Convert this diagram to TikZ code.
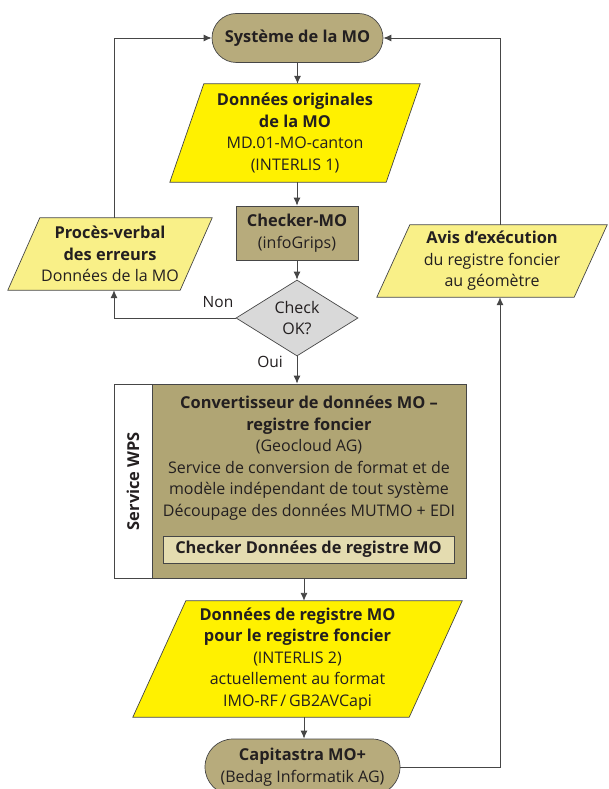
\documentclass[tikz,border=0pt]{standalone}
\usepackage{fontspec}
\setmainfont{Open Sans}
\usetikzlibrary{arrows.meta,shapes.geometric,backgrounds,calc}
\definecolor{khaki}{RGB}{183,171,124}
\definecolor{khakid}{RGB}{176,165,116}
\definecolor{khakil}{RGB}{228,220,176}
\definecolor{yel}{RGB}{255,241,0}
\definecolor{paleyel}{RGB}{249,240,136}
\definecolor{dgray}{RGB}{217,217,217}
\definecolor{edge}{RGB}{70,70,70}
\definecolor{txt}{RGB}{35,31,32}
\newcommand{\bb}{\fontsize{16.4}{21.5}\selectfont\bfseries}
\newcommand{\paral}[3]{% name, slant, colour
  \begin{scope}[on background layer]
  \fill[#3,draw=edge,line width=0.7pt] ($(#1.north west)+(#2,0)$) -- (#1.north east) -- ($(#1.south east)-(#2,0)$) -- (#1.south west) -- cycle;
  \end{scope}}
\begin{document}
\begin{tikzpicture}[x=1pt,y=-1pt,
  every node/.style={text=txt,align=center,inner sep=0pt,font=\fontsize{16}{21.5}\selectfont},
  pill/.style={rectangle,rounded corners=#1,fill=khaki,draw=edge,line width=0.7pt},
  boxk/.style={rectangle,fill=khaki,draw=edge,line width=0.7pt},
  ptext/.style={rectangle},
  conn/.style={draw=edge,line width=0.9pt},
  arr/.style={conn,-{Latex[length=8pt,width=7pt]}},
  lbl/.style={font=\fontsize{15.5}{17}\selectfont}]
\useasboundingbox (0,0) rectangle (609,789);

% nodes
\node[pill=24.5pt,minimum width=171pt,minimum height=49pt] (sys) at (297.5,38) {\bb Système de la MO};
\node[ptext,minimum width=250pt,minimum height=98pt] (orig) at (295,133)
  {\bb Données originales\\ \bb de la MO\\ MD.01-MO-canton\\ (INTERLIS 1)};
\paral{orig}{34}{yel}
\node[boxk,minimum width=122pt,minimum height=54pt] (chk) at (297,233)
  {\bb Checker-MO\\ (infoGrips)};
\node[diamond,fill=dgray,draw=edge,line width=0.7pt,minimum width=122pt,minimum height=76pt,inner sep=0pt] (dia) at (297,318) {};
\node (diat) at (297,318) {Check\\ OK?};
\node[ptext,minimum width=204pt,minimum height=72pt] (proc) at (110,254)
  {\bb Procès-verbal\\ \bb des erreurs\\ Données de la MO};
\paral{proc}{32}{paleyel}
\node[ptext,minimum width=230pt,minimum height=72pt] (avis) at (492,261)
  {\bb Avis d’exécution\\ du registre foncier\\ au géomètre};
\paral{avis}{33}{paleyel}
\node[lbl] (non) at (218,302) {Non};
\node[lbl] (oui) at (270,362) {Oui};

% WPS block
\node[rectangle,fill=white,draw=edge,line width=0.7pt,minimum width=352pt,minimum height=194pt] (wps) at (290,481) {};
\node[rectangle,fill=khakid,draw=edge,line width=0.7pt,minimum width=314pt,minimum height=194pt] (conv) at (309,481) {};
\node (convt) at (309,458)
  {\bb Convertisseur de données MO –\\ \bb registre foncier\\ (Geocloud AG)\\ Service de conversion de format et de\\ modèle indépendant de tout système\\ Découpage des données MUTMO + EDI};
\node[rectangle,fill=khakil,draw=edge,line width=0.7pt,minimum width=291pt,minimum height=27pt] (chkreg) at (308.5,549.5)
  {\bb Checker Données de registre MO};
\node[rotate=90] (wpsl) at (133,481) {\bb Service WPS};

\node[ptext,minimum width=329pt,minimum height=116pt] (reg) at (297.5,659)
  {\bb Données de registre MO\\ \bb pour le registre foncier\\ (INTERLIS 2)\\ actuellement au format\\ IMO-RF\,/\,GB2AVCapi};
\paral{reg}{53}{yel}
\node[pill=28pt,minimum width=195pt,minimum height=56pt] (cap) at (302.5,767)
  {\bb Capitastra MO+\\ (Bedag Informatik AG)};

% helper coordinates
\coordinate (lx) at (114,0);
\coordinate (rx) at (500,0);
\coordinate (mx) at (304,0);

% connectors
\draw[arr] (sys.south) -- (sys.south |- orig.north);
\draw[arr] (chk.north |- orig.south) -- (chk.north);
\draw[arr] (chk.south) -- (dia.north);
\draw[arr] (dia.west) -- (dia.west -| lx) -- (proc.south -| lx);
\draw[arr] (proc.north -| lx) -- (sys.west -| lx) -- (sys.west);
\draw[arr] (dia.south) -- (dia.south |- wps.north);
\draw[arr] (wps.south -| mx) -- (reg.north -| mx);
\draw[arr] (reg.south -| mx) -- (cap.north -| mx);
\draw[arr] (cap.east) -- (cap.east -| rx) -- (avis.south -| rx);
\draw[arr] (avis.north -| rx) -- (sys.east -| rx) -- (sys.east);
\end{tikzpicture}
\end{document}
